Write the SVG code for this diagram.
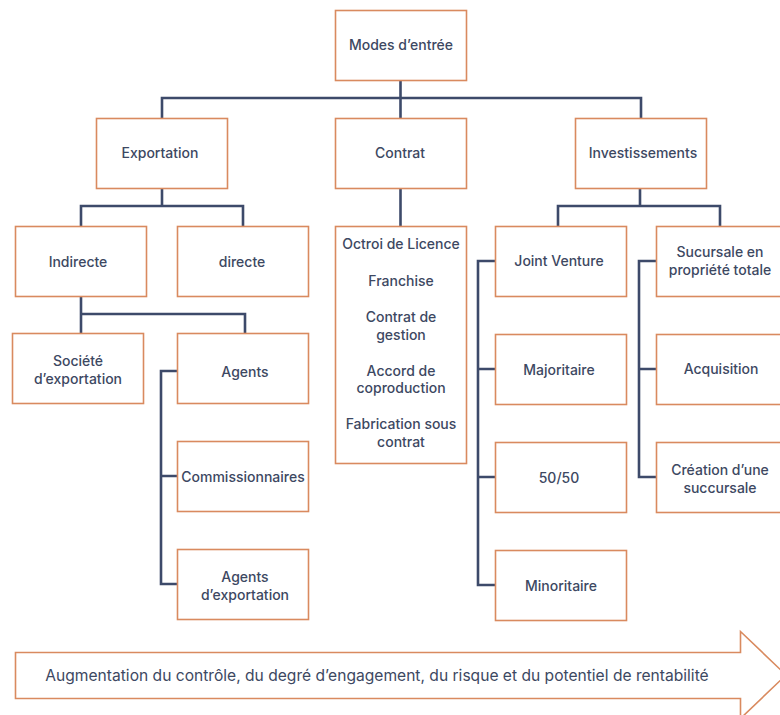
<svg xmlns="http://www.w3.org/2000/svg" width="780" height="715" viewBox="0 0 780 715">
  <style>
    .box { fill: #ffffff; stroke: #d98a5f; stroke-width: 1.6; }
    .lbl { font-family: Inter, "Noto Sans", "DejaVu Sans", sans-serif; font-size: 14px; font-weight: 500; fill: #3d4862; text-anchor: middle; }
    .note { font-size: 15.6px; font-weight: 400; }
    .link { fill: none; stroke: #3d4a6a; stroke-width: 2.6; stroke-linejoin: miter; }
  </style>
  <rect width="780" height="715" fill="#ffffff"/>

  <!-- connectors -->
  <g id="connectors">
    <path class="link" d="M400.5 80 V118 M162 118 V98 H641 V118"/>
    <path class="link" d="M162 188 V206 M81 226 V206 H243 V226"/>
    <path class="link" d="M81 296 V333 M81 314 H245 V333"/>
    <path class="link" d="M177 371 H161 V584 H177 M161 476 H177"/>
    <path class="link" d="M400.5 188 V226"/>
    <path class="link" d="M640 188 V206 M558 226 V206 H720 V226"/>
    <path class="link" d="M495 261 H478 V585 H495 M478 369 H495 M478 477 H495"/>
    <path class="link" d="M656 261 H639 V477 H656 M639 369 H656"/>
  </g>

  <g id="modes"><rect class="box" x="335.5" y="10.5" width="131" height="70"/><text class="lbl" x="401" y="49.5">Modes d’entrée</text></g>

  <g id="exportation"><rect class="box" x="96.5" y="118.5" width="131" height="70"/><text class="lbl" x="160" y="158">Exportation</text></g>
  <g id="contrat"><rect class="box" x="335.5" y="118.5" width="131" height="70"/><text class="lbl" x="400" y="158">Contrat</text></g>
  <g id="investissements"><rect class="box" x="575.5" y="118.5" width="131" height="70"/><text class="lbl" x="643" y="158">Investissements</text></g>

  <g id="indirecte"><rect class="box" x="15.5" y="226.5" width="131" height="70"/><text class="lbl" x="78" y="267">Indirecte</text></g>
  <g id="directe"><rect class="box" x="177.5" y="226.5" width="131" height="70"/><text class="lbl" x="242" y="267">directe</text></g>

  <g id="societe"><rect class="box" x="12.5" y="333.5" width="131" height="70"/><text class="lbl" x="78" y="366">Société</text><text class="lbl" x="78" y="384">d’exportation</text></g>
  <g id="agents"><rect class="box" x="177.5" y="333.5" width="131" height="70"/><text class="lbl" x="245" y="377">Agents</text></g>
  <g id="commissionnaires"><rect class="box" x="177.5" y="441.5" width="131" height="70"/><text class="lbl" x="243" y="482">Commissionnaires</text></g>
  <g id="agents-export"><rect class="box" x="177.5" y="549.5" width="131" height="70"/><text class="lbl" x="245" y="582">Agents</text><text class="lbl" x="245" y="600">d’exportation</text></g>

  <g id="contrats-liste">
    <rect class="box" x="335.5" y="226.5" width="131" height="237"/>
    <text class="lbl" x="401" y="249">Octroi de Licence</text>
    <text class="lbl" x="401" y="286">Franchise</text>
    <text class="lbl" x="401" y="322">Contrat de</text>
    <text class="lbl" x="401" y="339.5">gestion</text>
    <text class="lbl" x="401" y="375.5">Accord de</text>
    <text class="lbl" x="401" y="393">coproduction</text>
    <text class="lbl" x="401" y="429">Fabrication sous</text>
    <text class="lbl" x="401" y="446.5">contrat</text>
  </g>

  <g id="joint-venture"><rect class="box" x="495.5" y="226.5" width="131" height="70"/><text class="lbl" x="559" y="266">Joint Venture</text></g>
  <g id="sucursale"><rect class="box" x="656.5" y="226.5" width="131" height="70"/><text class="lbl" x="720" y="257">Sucursale en</text><text class="lbl" x="720" y="274.5">propriété totale</text></g>

  <g id="majoritaire"><rect class="box" x="495.5" y="334.5" width="131" height="70"/><text class="lbl" x="559" y="375">Majoritaire</text></g>
  <g id="acquisition"><rect class="box" x="656.5" y="334.5" width="131" height="70"/><text class="lbl" x="721" y="374">Acquisition</text></g>

  <g id="cinquante"><rect class="box" x="495.5" y="442.5" width="131" height="70"/><text class="lbl" x="559" y="483">50/50</text></g>
  <g id="creation"><rect class="box" x="656.5" y="442.5" width="131" height="70"/><text class="lbl" x="720" y="475">Création d’une</text><text class="lbl" x="720" y="492.5">succursale</text></g>

  <g id="minoritaire"><rect class="box" x="495.5" y="550.5" width="131" height="70"/><text class="lbl" x="561" y="591">Minoritaire</text></g>

  <g id="arrow">
    <path class="box" d="M15.5 652.5 H740.5 V631.5 L786 675 L740.5 718.5 V698.5 H15.5 Z"/>
    <text class="lbl note" x="377" y="681">Augmentation du contrôle, du degré d’engagement, du risque et du potentiel de rentabilité</text>
  </g>
</svg>
